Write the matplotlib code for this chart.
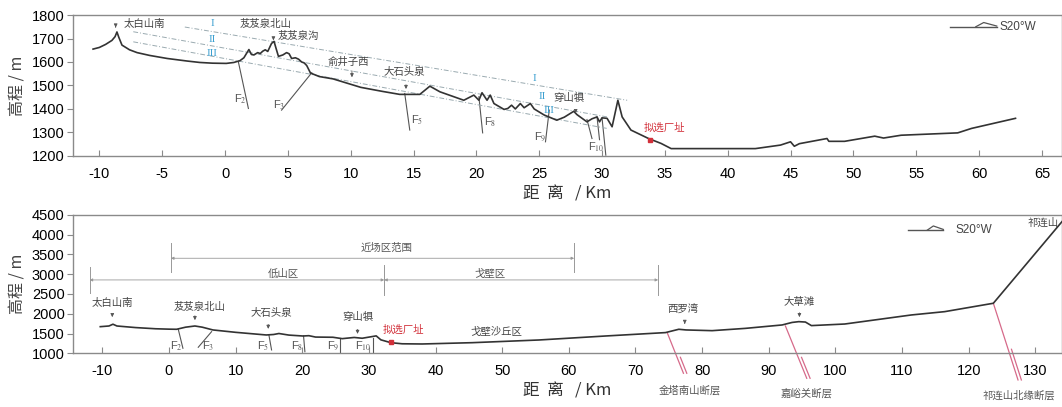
import numpy as np
import matplotlib
matplotlib.use("Agg")
import matplotlib.pyplot as plt

plt.rcParams['font.family'] = ['Liberation Sans', 'Noto Sans CJK SC', 'DejaVu Sans']
plt.rcParams['mathtext.fontset'] = 'stix'
plt.rcParams['axes.unicode_minus'] = False
CJK = ['Noto Sans CJK SC', 'DejaVu Sans']

# ---- upper profile (S20°W, local section) ----
top_dist = [-10.5, -10.0, -9.5, -9.0, -8.75, -8.6, -8.45, -8.2, -7.6, -7.0, -6.0, -4.6, -3.0, -2.0,
            -1.0, 0.1, 0.7, 1.2, 1.5, 1.75, 1.9, 2.1, 2.3, 2.6, 2.8, 3.0, 3.2, 3.4, 3.7, 3.9,
            4.05, 4.25, 4.6, 4.9, 5.1, 5.3, 5.6, 5.85, 6.1, 6.3, 6.5, 6.8, 7.5, 8.6, 10.8, 12.5,
            13.9, 15.5, 16.3, 17.1, 19.0, 19.8, 20.2, 20.45, 20.85, 21.1, 21.4, 22.2, 22.5, 22.8,
            23.1, 23.5, 23.8, 24.3, 24.6, 25.4, 26.4, 27.0, 27.75, 28.0, 28.8, 29.2, 29.6, 29.8,
            30.0, 30.4, 30.8, 31.26, 31.6, 32.3, 33.7, 34.7, 35.5, 42.2, 44.2, 45.0, 45.3, 45.7,
            47.9, 48.05, 49.3, 51.7, 52.4, 53.8, 58.3, 59.4, 62.9]
top_elev = [1655, 1662, 1675, 1692, 1708, 1728, 1705, 1672, 1652, 1640, 1628, 1615, 1604, 1598,
            1595, 1594, 1598, 1606, 1618, 1640, 1653, 1632, 1630, 1640, 1636, 1646, 1652, 1645, 1679, 1688,
            1660, 1624, 1630, 1640, 1635, 1615, 1618, 1612, 1600, 1596, 1585, 1553, 1538, 1528, 1492, 1475,
            1462, 1462, 1497, 1473, 1437, 1459, 1437, 1469, 1437, 1459, 1423, 1398, 1402, 1416,
            1400, 1423, 1405, 1423, 1400, 1374, 1352, 1365, 1390, 1376, 1345, 1358, 1366, 1345,
            1362, 1360, 1324, 1437, 1366, 1310, 1274, 1253, 1231, 1231, 1246, 1260, 1241, 1252,
            1274, 1262, 1262, 1284, 1276, 1288, 1298, 1317, 1360]

# faults (x0, e0, x1, e1) and labels
top_faults = [(1.06, 1601, 1.86, 1402), (6.9, 1554, 4.5, 1395), (14.3, 1466, 14.7, 1310),
              (20.2, 1452, 20.5, 1298), (25.8, 1395, 25.5, 1260), (28.8, 1355, 29.2, 1274),
              (29.6, 1366, 29.8, 1269), (30.0, 1362, 30.3, 1203)]
top_fault_labels = [r'F$_2$', r'F$_3$', r'F$_5$', r'F$_8$', r'F$_9$', r'F$_{10}$']
top_fault_label_pos = [(1.2, 1440), (4.3, 1415), (15.3, 1350), (21.1, 1345), (25.1, 1280), (29.5, 1238)]

# terrace lines I, II, III
terrace_x = [(-3.2, 32.0), (-7.3, 30.4), (-7.3, 30.4)]
terrace_e = [(1749, 1437), (1729, 1366), (1686, 1317)]
terrace_names = ['I', 'II', 'III']
terrace_left = [(-1.0, 1765), (-1.0, 1696), (-1.0, 1637)]
terrace_right = [(24.6, 1530), (25.2, 1452), (25.8, 1395)]

top_places = ['太白山南', '芨芨泉北山', '芨芨泉沟', '俞井子西', '大石头泉', '穿山犋']
top_place_pos = [(-8.1, 1762), (1.2, 1762), (4.2, 1710), (8.2, 1600), (12.6, 1556), (26.1, 1445)]
top_arrows = [(-8.7, 1762, 1735), (3.85, 1715, 1692), (10.1, 1574, 1523), (14.4, 1515, 1473),
              (27.9, 1403, 1382)]
top_site = (33.8, 1267)

# ---- lower profile (regional section) ----
bot_dist = [-10.3, -9.0, -8.4, -7.8, -5.0, -2.0, 0.0, 1.15, 2.5, 3.9, 5.0, 6.6, 10.0, 14.6, 15.7,
            16.5, 18.0, 20.1, 21.0, 22.0, 24.6, 26.0, 27.8, 29.0, 31.1, 31.8, 33.3, 35.0, 38.0,
            45.5, 55.5, 65.5, 74.5, 76.5, 77.6, 81.5, 86.5, 92.0, 93.5, 94.5, 95.5, 96.4, 101.4,
            111.4, 116.4, 123.7, 134.5]
bot_elev = [1673, 1690, 1735, 1690, 1650, 1620, 1610, 1607, 1660, 1690, 1660, 1590, 1530, 1463, 1475,
            1500, 1460, 1437, 1445, 1410, 1405, 1370, 1400, 1380, 1440, 1340, 1268, 1240, 1235,
            1268, 1336, 1437, 1523, 1607, 1590, 1572, 1630, 1716, 1780, 1800, 1790, 1700, 1740,
            1969, 2053, 2265, 4430]

bot_faults = [(1.4, 1607, 2.1, 1126), (6.4, 1547, 4.4, 1152), (15.0, 1463, 15.4, 1084),
              (20.2, 1437, 20.4, 1040), (25.6, 1380, 25.6, 1000), (30.6, 1390, 30.6, 1000)]
bot_fault_labels = [r'F$_2$', r'F$_3$', r'F$_5$', r'F$_8$', r'F$_9$', r'F$_{10}$']
bot_fault_label_pos = [(1.15, 1180), (5.9, 1180), (14.1, 1180), (19.3, 1180), (24.6, 1180), (29.1, 1180)]

major_faults = [(74.8, 1506, 77.2, 494), (92.5, 1690, 95.7, 367), (123.7, 2265, 127.4, 325)]
major_names = ['金塔南山断层', '嘉峪关断层', '祁连山北缘断层']
major_label_pos = [(78.2, 60), (95.7, -10), (127.6, -60)]

bot_places = ['太白山南', '芨芨泉北山', '大石头泉', '穿山犋', '西罗湾', '大草滩']
bot_place_pos = [(-8.5, 2265), (4.6, 2180), (15.4, 2012), (28.3, 1927), (77.1, 2096), (94.5, 2305)]
bot_arrows = [(-8.5, 2053, 1843), (3.9, 2020, 1767), (14.9, 1800, 1547), (28.3, 1673, 1420),
              (77.4, 1843, 1673), (94.6, 2096, 1843)]
bot_site = (33.3, 1293)

spans = [('近场区范围', 0.3, 60.8, 3403, 3790, 3055, 32.6, 3670),
         ('低山区', -11.9, 32.3, 2855, 3190, 2520, 17.1, 3006),
         ('戈壁区', 32.3, 73.4, 2855, 3230, 2480, 48.1, 3006)]

GRAY = '#555555'
LINE = '#333333'
RED = '#d2303a'
TEAL = '#3a9fd0'

fig = plt.figure(figsize=(10.62, 4.07), dpi=100)
ax1 = fig.add_axes([0.0687, 0.617, 0.9313, 0.346])
ax2 = fig.add_axes([0.0687, 0.132, 0.9313, 0.340])


def style(ax):
    for s in ax.spines.values():
        s.set_color('#8a8a8a')
        s.set_linewidth(1.0)
    ax.tick_params(axis='x', direction='in', length=4, color='#8a8a8a', labelsize=10.5, pad=8)
    ax.tick_params(axis='y', direction='out', length=4, color='#8a8a8a', labelsize=10.5, pad=2)
    ax.set_ylabel('高程 / m', family=CJK, fontsize=11.5, color='#444444', labelpad=4)
    ax.set_xlabel('距  离   / Km', family=CJK, fontsize=12, color='#333333', labelpad=3)


def legend_mark(ax, x0, x1, y, tx):
    ax.plot([x0, x1], [y, y], color=GRAY, lw=1, transform=ax.transAxes)
    ax.plot([x0 + (x1 - x0) * 0.55, x0 + (x1 - x0) * 0.72, x1],
            [y, y + 0.03, y + 0.005], color=GRAY, lw=0.9, transform=ax.transAxes)
    ax.text(tx, y, 'S20°W', transform=ax.transAxes, fontsize=8.5, va='center', color='#444444')


# ---------- upper panel ----------
ax1.plot(top_dist, top_elev, color=LINE, lw=1.2, zorder=3)
for (xa, ea, xb, eb) in top_faults:
    ax1.plot([xa, xb], [ea, eb], color=GRAY, lw=0.8)
for lab, (x, e) in zip(top_fault_labels, top_fault_label_pos):
    ax1.text(x, e, lab, fontsize=8, color=GRAY, ha='center', va='center')
for (xa, xb), (ea, eb) in zip(terrace_x, terrace_e):
    ax1.plot([xa, xb], [ea, eb], color='#9aaab0', lw=0.7, ls=(0, (5, 2, 1, 2)))
for name, (x, e) in zip(terrace_names, terrace_left):
    ax1.text(x, e, name, fontsize=8, color=TEAL, ha='center', va='center', family='Liberation Serif')
for name, (x, e) in zip(terrace_names, terrace_right):
    ax1.text(x, e, name, fontsize=8, color=TEAL, ha='center', va='center', family='Liberation Serif')
for name, (x, e) in zip(top_places, top_place_pos):
    ax1.text(x, e, name, family=CJK, fontsize=7.5, color='#444444', ha='left', va='center')
for (x, e0, e1) in top_arrows:
    ax1.annotate('', xy=(x, e1), xytext=(x, e0),
                 arrowprops=dict(arrowstyle='-|>', color=GRAY, lw=0.6, mutation_scale=5))
ax1.plot(*top_site, 's', color=RED, ms=3.5, zorder=4)
ax1.text(33.3, 1318, '拟选厂址', family=CJK, fontsize=7.5, color=RED, ha='left', va='center')
legend_mark(ax1, 0.887, 0.934, 0.917, 0.937)

ax1.set_xlim(-12.1, 66.6)
ax1.set_ylim(1200, 1800)
ax1.set_xticks(np.arange(-10, 66, 5))
ax1.set_yticks(np.arange(1200, 1801, 100))
style(ax1)

# ---------- lower panel ----------
ax2.plot(bot_dist, bot_elev, color=LINE, lw=1.2, zorder=3)
for (xa, ea, xb, eb) in bot_faults:
    ax2.plot([xa, xb], [ea, eb], color=GRAY, lw=0.8)
for lab, (x, e) in zip(bot_fault_labels, bot_fault_label_pos):
    ax2.text(x, e, lab, fontsize=8, color=GRAY, ha='center', va='center')
for (xa, ea, xb, eb), name, (lx, le) in zip(major_faults, major_names, major_label_pos):
    ax2.plot([xa, xb], [ea, eb], color='#d66a8a', lw=0.9, clip_on=False)
    ax2.plot([xa + (xb - xa) * 0.6 + 0.5, xb + 0.5], [ea + (eb - ea) * 0.6, eb],
             color='#d66a8a', lw=0.9, clip_on=False)
    ax2.text(lx, le, name, family=CJK, fontsize=7.5, color='#555555', ha='center', va='center')
for name, (x, e) in zip(bot_places, bot_place_pos):
    ax2.text(x, e, name, family=CJK, fontsize=7.5, color='#444444', ha='center', va='center')
for (x, e0, e1) in bot_arrows:
    ax2.annotate('', xy=(x, e1), xytext=(x, e0),
                 arrowprops=dict(arrowstyle='-|>', color=GRAY, lw=0.6, mutation_scale=5))
for (name, xa, xb, e, t0, t1, lx, le) in spans:
    ax2.annotate('', xy=(xb, e), xytext=(xa, e),
                 arrowprops=dict(arrowstyle='<|-|>', color='#999999', lw=0.6, mutation_scale=4,
                                 shrinkA=0, shrinkB=0))
    ax2.plot([xa, xa], [t0, t1], color='#999999', lw=0.7)
    ax2.plot([xb, xb], [t0, t1], color='#999999', lw=0.7)
    ax2.text(lx, le, name, family=CJK, fontsize=7.5, color='#555555', ha='center', va='center')
ax2.plot(*bot_site, 's', color=RED, ms=3.5, zorder=4)
ax2.text(35.2, 1590, '拟选厂址', family=CJK, fontsize=7.5, color=RED, ha='center', va='center')
ax2.text(49.1, 1547, '戈壁沙丘区', family=CJK, fontsize=7.5, color='#444444', ha='center', va='center')
ax2.text(128.9, 4300, '祁连山', family=CJK, fontsize=7.5, color='#444444', ha='left', va='center')
legend_mark(ax2, 0.844, 0.88, 0.89, 0.892)

ax2.set_xlim(-14.4, 134.0)
ax2.set_ylim(1000, 4500)
ax2.set_xticks(np.arange(-10, 131, 10))
ax2.set_yticks(np.arange(1000, 4501, 500))
style(ax2)

fig.savefig('out.png', dpi=100)
